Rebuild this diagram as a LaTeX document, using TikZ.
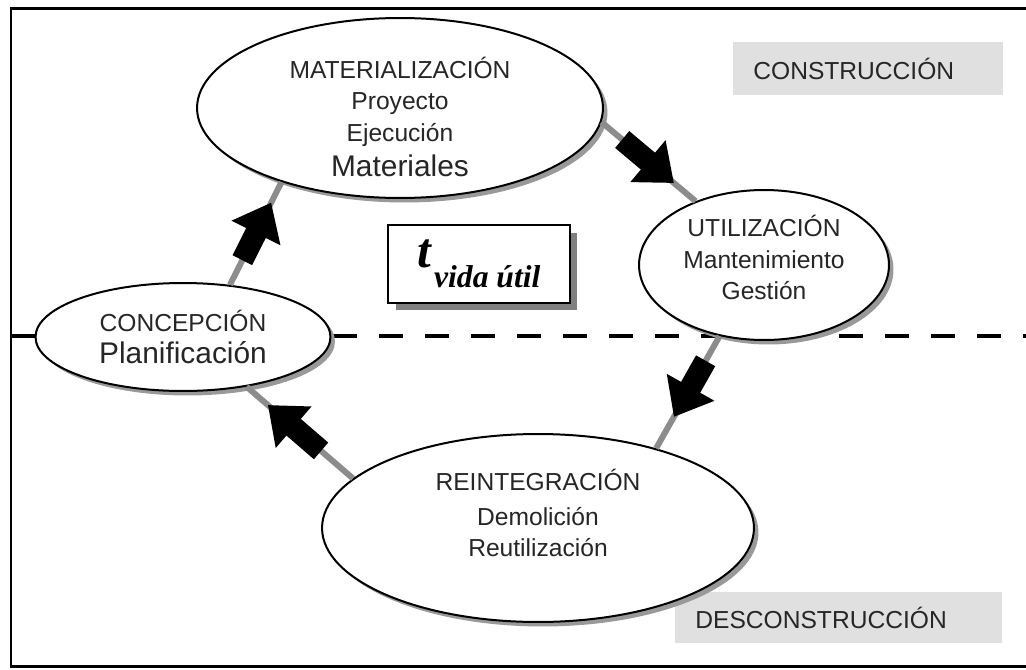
\documentclass[tikz,border=0pt]{standalone}
\usepackage{fontspec}
\setmainfont{Liberation Sans}
\newfontfamily\timesfont{Liberation Serif}
\usetikzlibrary{shapes.geometric,arrows.meta,shadows}

\begin{document}
\begin{tikzpicture}[x=0.02cm,y=-0.02cm,
    phase/.style={ellipse,draw,line width=0.04cm,fill=white,inner sep=0pt,
      drop shadow={shadow xshift=0.09cm,shadow yshift=-0.09cm,fill=black!40,opacity=1}},
    words/.style={align=center,font=\fontsize{14}{18}\selectfont,text=black!85},
    link/.style={draw=black!45,line width=0.12cm},
    fat/.style={line width=0.44cm,-{Triangle[width=1.05cm,length=0.68cm]}},
    tag/.style={fill=black!12,anchor=west,inner xsep=0.4cm,align=left,
      font=\fontsize{14}{17}\selectfont,text=black!85},
    cut/.style={dash pattern=on 0.48cm off 0.44cm,line width=0.08cm}]
  \useasboundingbox (0,0) rectangle (1026,669);
  \draw[line width=0.06cm] (1026,8.5) -- (11,8.5) -- (11,666.5) -- (1026,666.5);
  \draw[cut] (11,336) -- (1026,336);
  \node[tag,text width=4.6cm,minimum height=1.06cm] (up) at (733,68.5) {CONSTRUCCIÓN};
  \node[tag,text width=5.74cm,minimum height=1.02cm] (down) at (675,617.5) {DESCONSTRUCCIÓN};
  \node[phase,minimum width=8.12cm,minimum height=3.6cm,
    label={[words,yshift=-0.18cm]center:MATERIALIZACIÓN\\Proyecto\\Ejecución\\[2pt]%
      {\fontsize{17}{20}\selectfont Materiales}}] (mat) at (400,108) {};
  \node[phase,minimum width=5cm,minimum height=3cm,
    label={[words,yshift=0.15cm]center:UTILIZACIÓN\\Mantenimiento\\Gestión}]
    (util) at (764,265) {};
  \node[phase,minimum width=5.9cm,minimum height=2.16cm,
    label={[words]center:CONCEPCIÓN\\{\fontsize{17}{20}\selectfont Planificación}}]
    (conc) at (183,337) {};
  \node[phase,minimum width=8.64cm,minimum height=3.76cm,
    label={[words,yshift=0.3cm]center:REINTEGRACIÓN\\[2pt]Demolición\\Reutilización}]
    (reint) at (538,528) {};
  \node[draw,line width=0.04cm,fill=white,minimum width=3.64cm,minimum height=1.56cm,
    drop shadow={shadow xshift=0.15cm,shadow yshift=-0.15cm,fill=black!50,opacity=1}]
    (life) at (479,264)
    {\timesfont\bfseries\itshape{\fontsize{28}{28}\selectfont t}\,%
     \raisebox{-0.4cm}{\fontsize{18}{18}\selectfont vida útil}\hspace{0.3cm}};
  % ciclo
  \draw[link] (mat.-4) -- (util.137) coordinate[pos=0.22] (a1) coordinate[pos=0.77] (b1);
  \draw[fat] (a1) -- (b1);
  \draw[link] (util.238) -- (reint.34) coordinate[pos=0.22] (a2) coordinate[pos=0.72] (b2);
  \draw[fat] (a2) -- (b2);
  \draw[link] (reint.165) -- (conc.-38) coordinate[pos=0.3] (a3) coordinate[pos=0.8] (b3);
  \draw[fat] (a3) -- (b3);
  \draw[link] (conc.48) -- (mat.212) coordinate[pos=0.24] (a4) coordinate[pos=0.8] (b4);
  \draw[fat] (a4) -- (b4);
\end{tikzpicture}
\end{document}
